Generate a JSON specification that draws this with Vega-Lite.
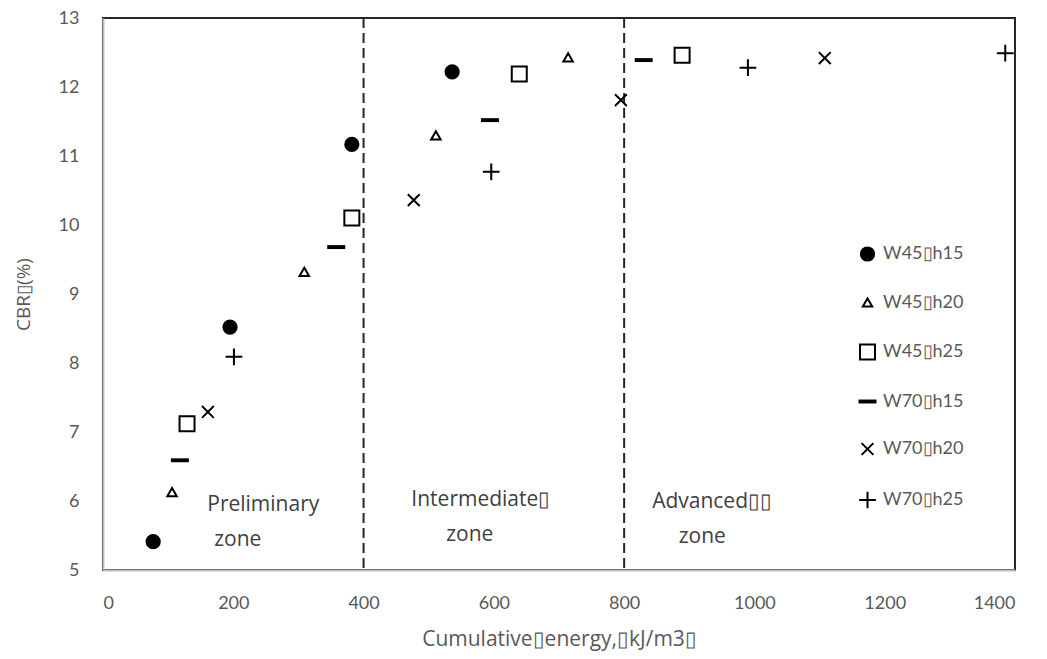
{
  "$schema": "https://vega.github.io/schema/vega-lite/v6.json",
  "width": 912,
  "height": 552,
  "autosize": "none",
  "padding": {"left": 103, "top": 18, "right": 32, "bottom": 89},
  "background": "white",
  "config": {
    "font": "Lato",
    "view": {"stroke": "#262626", "strokeWidth": 2},
    "axis": {"labelFont": "Lato", "titleFont": "Open Sans", "labelColor": "#595959", "titleColor": "#595959", "labelFontSize": 18, "titleFontSize": 19, "titleFontWeight": "normal", "grid": false, "ticks": false, "domainColor": "#bfbfbf", "domainWidth": 2},
    "legend": {"labelFont": "Lato", "labelFontSize": 18, "labelColor": "#595959"}
  },
  "layer": [
    {
      "data": {"values": [{"x": 400}, {"x": 800}]},
      "mark": {"type": "rule", "strokeDash": [10, 5], "strokeWidth": 2, "color": "#262626"},
      "encoding": {"x": {"field": "x", "type": "quantitative"}}
    },
    {
      "data": {"values": [
        {"t": "Preliminary", "x": 246, "y": 5.94},
        {"t": "zone", "x": 207, "y": 5.43},
        {"t": "Intermediate▯", "x": 580, "y": 6.01},
        {"t": "zone", "x": 563, "y": 5.51},
        {"t": "Advanced▯▯", "x": 935, "y": 5.99},
        {"t": "zone", "x": 920, "y": 5.48}
      ]},
      "mark": {"type": "text", "fontSize": 21, "color": "#404040", "font": "Open Sans"},
      "encoding": {
        "x": {"field": "x", "type": "quantitative"},
        "y": {"field": "y", "type": "quantitative"},
        "text": {"field": "t"}
      }
    },
    {
      "data": {"values": [
        {"s": "W45▯h15", "e": 77, "cbr": 5.41},
        {"s": "W45▯h15", "e": 195, "cbr": 8.52},
        {"s": "W45▯h15", "e": 382, "cbr": 11.17},
        {"s": "W45▯h15", "e": 536, "cbr": 12.22},
        {"s": "W45▯h20", "e": 106, "cbr": 6.13},
        {"s": "W45▯h20", "e": 309, "cbr": 9.32},
        {"s": "W45▯h20", "e": 511, "cbr": 11.3},
        {"s": "W45▯h20", "e": 714, "cbr": 12.43},
        {"s": "W45▯h25", "e": 129, "cbr": 7.12},
        {"s": "W45▯h25", "e": 382, "cbr": 10.1},
        {"s": "W45▯h25", "e": 639, "cbr": 12.19},
        {"s": "W45▯h25", "e": 889, "cbr": 12.46},
        {"s": "W70▯h15", "e": 118, "cbr": 6.59},
        {"s": "W70▯h15", "e": 358, "cbr": 9.68},
        {"s": "W70▯h15", "e": 594, "cbr": 11.52},
        {"s": "W70▯h15", "e": 830, "cbr": 12.39},
        {"s": "W70▯h20", "e": 161, "cbr": 7.29},
        {"s": "W70▯h20", "e": 477, "cbr": 10.36},
        {"s": "W70▯h20", "e": 795, "cbr": 11.81},
        {"s": "W70▯h20", "e": 1108, "cbr": 12.42},
        {"s": "W70▯h25", "e": 201, "cbr": 8.09},
        {"s": "W70▯h25", "e": 596, "cbr": 10.77},
        {"s": "W70▯h25", "e": 990, "cbr": 12.28},
        {"s": "W70▯h25", "e": 1385, "cbr": 12.49}
      ]},
      "mark": {"type": "point", "strokeWidth": 2, "opacity": 1},
      "encoding": {
        "x": {"field": "e", "type": "quantitative", "scale": {"domain": [0, 1400], "nice": false}, "axis": {"values": [0, 200, 400, 600, 800, 1000, 1200, 1400], "format": "d", "title": "Cumulative▯energy,▯kJ/m3▯", "titlePadding": 16, "labelPadding": 24, "titleFontSize": 21}},
        "y": {"field": "cbr", "type": "quantitative", "scale": {"domain": [5, 13], "nice": false, "zero": false}, "axis": {"values": [5, 6, 7, 8, 9, 10, 11, 12, 13], "format": "d", "title": "CBR▯(%)", "labelPadding": 24, "titlePadding": 25}},
        "shape": {"field": "s", "type": "nominal", "scale": {"range": ["circle", "triangle-up", "square", "M-1,-0.12H1V0.12H-1Z", "M-1,-1L1,1M-1,1L1,-1", "M-1,0H1M0,-1V1"]}, "legend": {"title": null, "orient": "none", "legendX": 755, "legendY": 227, "rowPadding": 28.5, "labelOffset": 6, "symbolStrokeWidth": 2}},
        "fill": {"field": "s", "type": "nominal", "scale": {"range": ["black", "transparent", "transparent", "black", "transparent", "transparent"]}, "legend": {"title": null}},
        "stroke": {"field": "s", "type": "nominal", "scale": {"range": ["black", "black", "black", "black", "black", "black"]}, "legend": {"title": null}},
        "size": {"field": "s", "type": "nominal", "scale": {"type": "ordinal", "range": [175, 90, 225, 256, 140, 280]}, "legend": {"title": null}}
      }
    }
  ]
}
